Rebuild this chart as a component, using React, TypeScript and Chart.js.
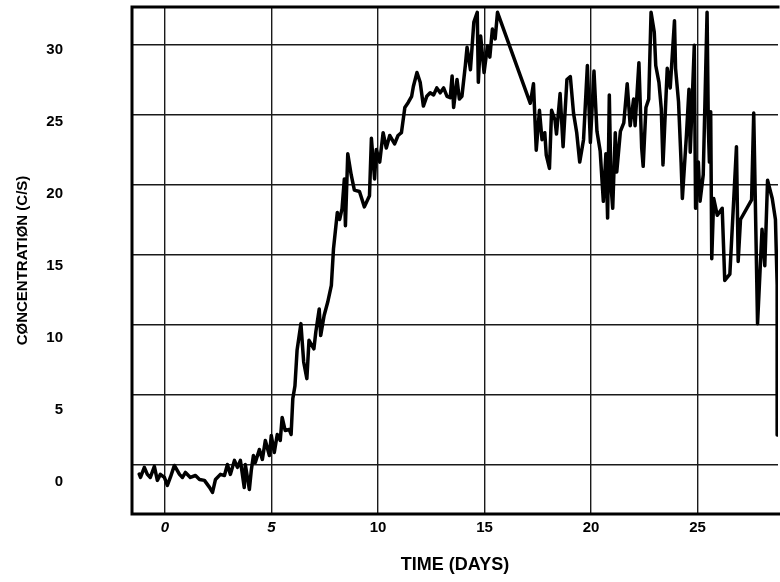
import React, { useEffect, useRef } from "react";
import { Chart, registerables } from "chart.js";

Chart.register(...registerables);

// Time in days
const days = [
  -1.21, -1.15, -0.97, -0.83, -0.69, -0.5, -0.36, -0.22, -0.03, 0.11, 0.25, 0.44, 0.68, 0.82, 0.96, 1.19,
  1.43, 1.62, 1.85, 2.09, 2.23, 2.37, 2.6, 2.79, 2.93, 3.07, 3.26, 3.4, 3.54, 3.72, 3.77, 3.96, 4.05, 4.15,
  4.24, 4.43, 4.57, 4.71, 4.9, 4.99, 5.13, 5.27, 5.41, 5.5, 5.64, 5.83, 5.92, 6.0, 6.1, 6.2, 6.38, 6.51,
  6.66, 6.76, 6.99, 7.08, 7.24, 7.31, 7.47, 7.64, 7.81, 7.91, 8.09, 8.2, 8.31, 8.42, 8.47, 8.58, 8.74, 8.89,
  9.13, 9.36, 9.6, 9.69, 9.84, 9.92, 10.08, 10.24, 10.39, 10.55, 10.78, 10.94, 11.1, 11.26, 11.42, 11.58,
  11.66, 11.83, 11.98, 12.13, 12.29, 12.45, 12.61, 12.76, 12.92, 13.08, 13.24, 13.39, 13.48, 13.55, 13.71,
  13.82, 13.94, 14.1, 14.18, 14.34, 14.5, 14.66, 14.71, 14.82, 14.98, 15.14, 15.25, 15.37, 15.5, 15.61,
  17.15, 17.3, 17.37, 17.43, 17.58, 17.7, 17.83, 17.9, 18.05, 18.15, 18.31, 18.38, 18.55, 18.69, 18.87,
  19.03, 19.18, 19.33, 19.47, 19.65, 19.83, 19.97, 20.14, 20.28, 20.43, 20.58, 20.7, 20.78, 20.86, 20.94,
  21.02, 21.14, 21.21, 21.38, 21.54, 21.7, 21.84, 22.0, 22.07, 22.25, 22.38, 22.45, 22.58, 22.71, 22.82,
  22.97, 23.04, 23.19, 23.3, 23.38, 23.45, 23.58, 23.72, 23.92, 23.97, 24.11, 24.23, 24.29, 24.48, 24.6,
  24.66, 24.85, 24.91, 25.04, 25.12, 25.27, 25.45, 25.51, 25.56, 25.62, 25.67, 25.76, 25.93, 26.16, 26.28,
  26.52, 26.83, 26.91, 27.02, 27.54, 27.64, 27.82, 28.03, 28.16, 28.29, 28.51, 28.66, 28.74, 28.74,
];

// Concentration (C/S)
const concentration = [
  -0.69, -0.93, -0.21, -0.71, -0.93, -0.14, -1.14, -0.71, -0.93, -1.5, -0.93, -0.07, -0.71, -0.93, -0.57, -0.93,
  -0.79, -1.07, -1.14, -1.64, -2.0, -1.07, -0.71, -0.79, 0.0, -0.71, 0.29, -0.21, 0.29, -1.64, 0.0, -1.79, -0.43, 0.64,
  0.14, 1.07, 0.36, 1.71, 0.64, 2.07, 0.86, 2.14, 1.71, 3.36, 2.43, 2.5, 2.14, 4.7, 5.6, 8.15, 10.06, 7.32,
  6.13, 8.87, 8.26, 9.46, 11.1, 9.21, 10.64, 11.6, 12.8, 15.4, 18.0, 17.5, 18.25, 20.4, 17.05, 22.2, 20.7, 19.6,
  19.5, 18.4, 19.2, 23.3, 20.4, 22.5, 21.6, 23.7, 22.6, 23.5, 22.9, 23.5, 23.7, 25.5, 25.86, 26.3,
  27.0, 28.0, 27.3, 25.6, 26.3, 26.55, 26.4, 26.9, 26.55, 26.9, 26.3, 26.2, 27.75, 25.5, 27.5,
  26.1, 26.3, 28.5, 29.8, 28.2, 31.6, 32.3, 27.3, 30.6, 28.0, 29.9, 29.1, 31.1, 30.4, 32.3,
  25.8, 27.2, 24.6, 22.45, 25.3, 23.2, 23.7, 22.1, 21.15, 25.3, 24.6, 23.6, 26.5, 22.7, 27.5,
  27.7, 25.1, 23.7, 21.6, 23.2, 28.5, 23.0, 28.1, 23.8, 22.4, 18.8, 22.2, 17.6, 26.4, 19.9,
  18.3, 23.7, 20.9, 23.8, 24.4, 27.2, 24.2, 26.1, 24.2, 28.7, 22.6, 21.3, 25.5, 26.1, 32.3,
  30.9, 28.5, 27.3, 25.4, 21.4, 23.8, 28.3, 26.9, 31.7, 28.3, 25.9, 21.6, 19.0, 23.5, 26.8,
  22.3, 29.95, 18.3, 21.6, 18.8, 20.7, 32.3, 24.0, 21.6, 25.2, 14.7, 19.0, 17.8, 18.3, 13.15,
  13.6, 22.7, 14.5, 17.5, 18.9, 25.1, 10.05, 16.8, 14.2, 20.3, 19.0, 17.5, 12.8, 2.1,
];

const xTickValues = [0, 5, 10, 15, 20, 25];
const yTickValues = [0, 5, 10, 15, 20, 25, 30];
const xTitle = "TIME (DAYS)";
const yTitle = "CØNCENTRATIØN (C/S)";

const FONT = "'Liberation Sans', Arial, sans-serif";

const framePlugin = {
  id: "frame",
  afterDraw(chart: any) {
    const { ctx, chartArea } = chart;
    const { left, top, right, bottom } = chartArea;
    ctx.save();
    ctx.strokeStyle = "#000";
    ctx.lineWidth = 3;
    ctx.lineCap = "square";
    ctx.beginPath();
    ctx.moveTo(left, bottom);
    ctx.lineTo(left, top);
    ctx.lineTo(right, top);
    ctx.moveTo(left, bottom);
    ctx.lineTo(chart.width, bottom);
    ctx.stroke();
    ctx.restore();
  },
};

export default function App() {
  const ref = useRef<HTMLCanvasElement | null>(null);

  useEffect(() => {
    document.body.style.margin = "0";
    const canvas = ref.current;
    if (!canvas) return;
    const points = days.map((d, i) => ({ x: d, y: concentration[i] }));
    const gridStyle = { color: "#1a1a1a", lineWidth: 1.4, drawTicks: false };
    const chart = new Chart(canvas, {
      type: "line",
      data: {
        datasets: [
          {
            data: points,
            borderColor: "#000",
            borderWidth: 3.5,
            pointRadius: 0,
            tension: 0,
            borderJoinStyle: "round",
            borderCapStyle: "round",
            fill: false,
          },
        ],
      },
      options: {
        animation: false,
        responsive: false,
        devicePixelRatio: 1,
        layout: { padding: { top: 7, right: 2, left: 0, bottom: 0 } },
        plugins: { legend: { display: false }, tooltip: { enabled: false } },
        scales: {
          x: {
            type: "linear",
            min: -1.55,
            max: 28.78,
            afterBuildTicks: (s: any) => {
              s.ticks = xTickValues.map((v) => ({ value: v }));
            },
            afterFit: (s: any) => {
              s.height = 68;
              s.paddingLeft = 0;
              s.paddingRight = 0;
            },
            grid: gridStyle,
            border: { display: false },
            ticks: {
              padding: 5,
              color: "#000",
              maxRotation: 0,
              font: (c: any) => ({
                family: FONT,
                size: 15,
                weight: "bold",
                style: c.tick && c.tick.value <= 5 ? "italic" : "normal",
              }),
              callback: (v: any) => String(v),
            },
            title: {
              display: true,
              text: xTitle,
              color: "#000",
              font: { family: FONT, size: 18, weight: "bold" },
              padding: { top: 0, bottom: 6 },
            },
          },
          y: {
            type: "linear",
            position: "left",
            min: -3.54,
            max: 32.68,
            afterBuildTicks: (s: any) => {
              s.ticks = yTickValues.map((v) => ({ value: v }));
            },
            afterFit: (s: any) => {
              s.width = 0;
              s.paddingTop = 0;
              s.paddingBottom = 0;
            },
            grid: gridStyle,
            border: { display: false },
            ticks: { display: false },
          },
          yLabels: {
            type: "linear",
            position: "left",
            min: -2.22,
            max: 32.99,
            afterBuildTicks: (s: any) => {
              s.ticks = yTickValues.map((v) => ({ value: v }));
            },
            afterFit: (s: any) => {
              s.width = 132;
              s.paddingTop = 0;
              s.paddingBottom = 0;
            },
            grid: { display: false, drawTicks: false },
            border: { display: false },
            ticks: {
              padding: 69,
              color: "#000",
              font: { family: FONT, size: 15, weight: "bold" },
              callback: (v: any) => String(v),
            },
            title: {
              display: true,
              text: yTitle,
              color: "#000",
              font: { family: FONT, size: 15, weight: "bold" },
              padding: { top: 14, bottom: 0 },
            },
          },
        },
      },
      plugins: [framePlugin],
    } as any);
    return () => chart.destroy();
  }, []);

  return (
    <div style={{ width: 780, height: 582 }}>
      <canvas ref={ref} width={780} height={582} style={{ display: "block" }} />
    </div>
  );
}
